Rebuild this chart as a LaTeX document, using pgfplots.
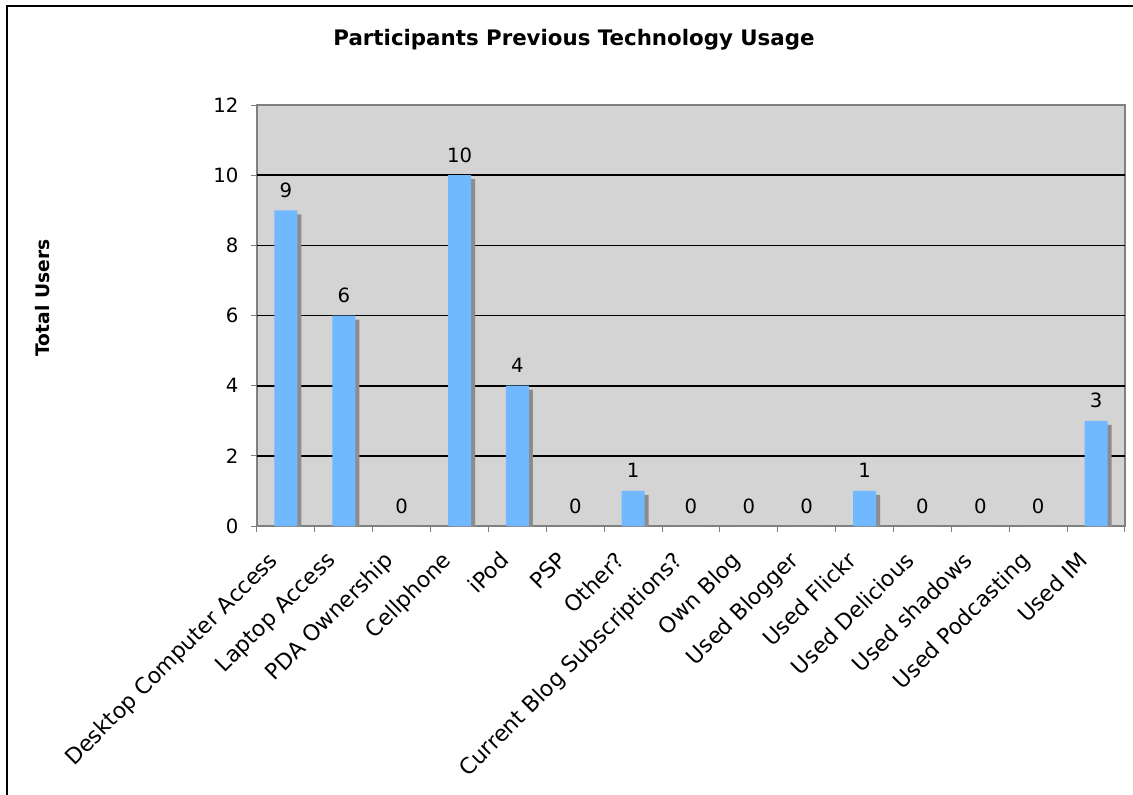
\documentclass[border=0pt]{standalone}
\usepackage{pgfplots}
\pgfplotsset{compat=1.18}
\usepackage{pgfplotstable}
\usepackage{fontspec}
\setmainfont{DejaVu Sans}

\definecolor{plotgray}{RGB}{212,212,212}
\definecolor{barblue}{RGB}{112,184,255}
\definecolor{shadowgray}{RGB}{140,140,140}
\definecolor{framegray}{RGB}{128,128,128}

% index, users
\pgfplotstableread{
idx users
0  9
1  6
2  0
3  10
4  4
5  0
6  1
7  0
8  0
9  0
10 1
11 0
12 0
13 0
14 3
}\techdata

% layout positions measured from the top-left corner, 0.6pt per unit
\newcommand{\pos}[2]{({(#1)*0.6pt},{(794-(#2))*0.6pt})}

\begin{document}
\begin{tikzpicture}
\useasboundingbox \pos{0}{794} rectangle \pos{1133}{0};
% chart frame
\draw[black, line width=1.3pt] \pos{7}{820} rectangle \pos{1160}{6};

\node[font=\bfseries\fontsize{12.8}{15}\selectfont] at \pos{574}{40} {Participants Previous Technology Usage};
\node[font=\bfseries\fontsize{11.2}{13}\selectfont, rotate=90] at \pos{43}{298} {Total Users};

\begin{axis}[
  at={(154.2pt,160.8pt)}, anchor=south west,
  scale only axis,
  width=520.8pt, height=252.6pt,
  ybar, bar width=13.8pt, bar shift=0pt,
  xmin=-0.5, xmax=14.5,
  ymin=0, ymax=12,
  ytick={0,2,...,12},
  xtick={0,...,14},
  xticklabels={Desktop Computer Access, Laptop Access, PDA Ownership, Cellphone, iPod, PSP, Other?, Current Blog Subscriptions?, Own Blog, Used Blogger, Used Flickr, Used Delicious, Used shadows, Used Podcasting, Used IM},
  minor xtick={-0.5,0.5,...,14.5},
  major x tick style={draw=none},
  xtick pos=bottom, ytick pos=left,
  minor tick length=3.6pt,
  major tick length=3.6pt,
  tick align=outside,
  tick style={draw=framegray, line width=0.6pt},
  axis line style={draw=framegray, line width=1pt},
  axis background/.style={fill=plotgray},
  extra y ticks={2,4,6,8,10},
  extra y tick labels={},
  extra y tick style={grid=major},
  major grid style={draw=black, line width=1pt},
  /pgf/number format/assume math mode=true,
  tick label style={font=\fontsize{11.8}{14}\selectfont},
  yticklabel style={xshift=-4pt},
  xticklabel style={font=\fontsize{13.2}{16}\selectfont, rotate=45, anchor=north east, inner sep=1pt, xshift=-14.5pt, yshift=1.5pt},
  nodes near coords,
  every node near coord/.append style={font=\fontsize{11.8}{14}\selectfont, anchor=base, yshift=7.8pt, black},
]
\addplot[fill=shadowgray, draw=none, bar shift=2.4pt, yshift=-2.4pt, nodes near coords={}] table[x=idx, y=users] {\techdata};
\addplot[fill=barblue, draw=none] table[x=idx, y=users] {\techdata};
\end{axis}
\end{tikzpicture}
\end{document}
